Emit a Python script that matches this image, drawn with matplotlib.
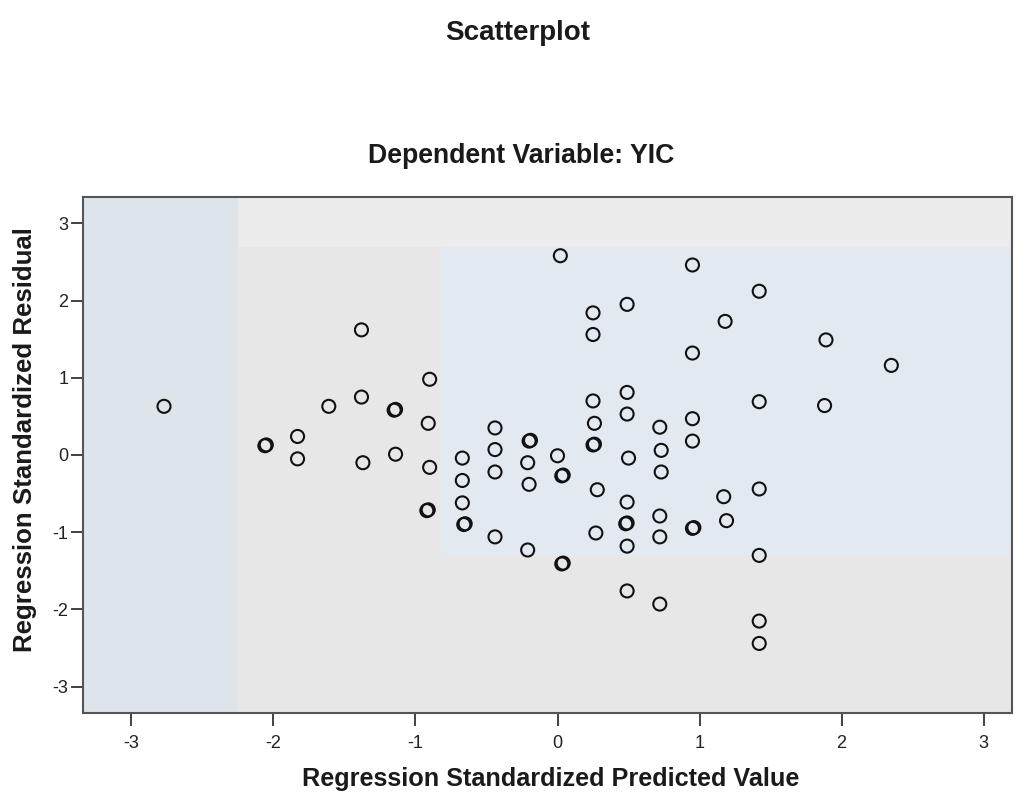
import matplotlib
matplotlib.use("Agg")
import matplotlib.pyplot as plt
from matplotlib.patches import Rectangle

plt.rcParams['font.family'] = ['Liberation Sans', 'DejaVu Sans']

# Regression standardized predicted values (x) and residuals (y)
pred = [-2.77, -2.06, -2.05, -1.83, -1.83, -1.61, -1.38, -1.38, -1.37,
        -1.15, -1.14, -1.14, -0.90, -0.91, -0.90, -0.92, -0.91,
        -0.67, -0.67, -0.67, -0.66, -0.65,
        -0.44, -0.44, -0.44, -0.44,
        -0.20, -0.19, -0.21, -0.20, -0.21,
        0.02, 0.00, 0.03, 0.04, 0.03, 0.04,
        0.25, 0.25, 0.25, 0.26, 0.25, 0.26, 0.28, 0.27,
        0.49, 0.49, 0.49, 0.50, 0.49, 0.48, 0.49, 0.49, 0.49,
        0.72, 0.73, 0.73, 0.72, 0.72, 0.72,
        0.95, 0.95, 0.95, 0.95, 0.95, 0.96,
        1.18, 1.17, 1.19,
        1.42, 1.42, 1.42, 1.42, 1.42, 1.42,
        1.88, 1.89, 2.35]
resid = [0.63, 0.12, 0.13, 0.24, -0.05, 0.63, 1.62, 0.75, -0.10,
         0.58, 0.59, 0.01, 0.98, 0.41, -0.16, -0.72, -0.71,
         -0.04, -0.33, -0.62, -0.90, -0.89,
         0.35, 0.07, -0.22, -1.06,
         0.18, 0.19, -0.10, -0.38, -1.23,
         2.58, -0.01, -0.27, -0.26, -1.41, -1.40,
         1.84, 1.56, 0.70, 0.41, 0.13, 0.14, -0.45, -1.01,
         1.95, 0.81, 0.53, -0.04, -0.61, -0.89, -0.88, -1.18, -1.76,
         0.36, 0.06, -0.22, -0.79, -1.06, -1.93,
         2.46, 1.32, 0.47, 0.18, -0.95, -0.94,
         1.73, -0.54, -0.85,
         2.12, 0.69, -0.44, -1.30, -2.15, -2.44,
         0.64, 1.49, 1.16]

xticks = [-3, -2, -1, 0, 1, 2, 3]
yticks = [-3, -2, -1, 0, 1, 2, 3]

fig = plt.figure(figsize=(10.19, 7.96), dpi=100)
ax = fig.add_axes([0.0815, 0.1043, 0.9117, 0.6482])
xlim = (-3.34, 3.20)
ylim = (-3.34, 3.34)
ax.set_xlim(*xlim)
ax.set_ylim(*ylim)
ax.set_facecolor('#e7e7e7')

# background shading (as in the scanned reference)
ax.add_patch(Rectangle((xlim[0], ylim[0]), -2.25 - xlim[0], ylim[1] - ylim[0],
                       facecolor='#dde5eb', edgecolor='none', zorder=0))
ax.add_patch(Rectangle((-0.81, -1.31), xlim[1] + 0.81, 2.69 + 1.31,
                       facecolor='#e3e9f1', edgecolor='none', zorder=0))
ax.add_patch(Rectangle((-2.25, 2.69), xlim[1] + 2.25, ylim[1] - 2.69,
                       facecolor='#ececec', edgecolor='none', zorder=0))

ax.scatter(pred, resid, s=88, facecolors='none', edgecolors='#111111',
           linewidths=1.5, zorder=3)

ax.set_xticks(xticks)
ax.set_yticks(yticks)
ax.set_xticklabels([str(t) for t in xticks])
ax.set_yticklabels([str(t) for t in yticks])
ax.tick_params(axis='x', direction='out', length=9.5, width=1.2, labelsize=13, pad=6, colors='#222222')
ax.tick_params(axis='y', direction='out', length=8.5, width=1.2, labelsize=13, pad=2, colors='#222222')
for s in ax.spines.values():
    s.set_color('#555555')
    s.set_linewidth(1.5)

ax.set_xlabel('Regression Standardized Predicted Value', fontsize=18.2, fontweight='bold', color='#1a1a1a')
ax.set_ylabel('Regression Standardized Residual', fontsize=18.6, fontweight='bold', color='#1a1a1a')
ax.xaxis.label.set_va('center')
ax.yaxis.label.set_va('center')
ax.xaxis.set_label_coords(0.503, -0.128)
ax.yaxis.set_label_coords(-0.0624, 0.529)

fig.text(0.508, 0.958, 'Scatterplot', ha='center', va='center', fontsize=20, fontweight='bold', color='#1a1a1a')
fig.text(0.511, 0.804, 'Dependent Variable: YIC', ha='center', va='center', fontsize=19.2, fontweight='bold', color='#1a1a1a')

fig.savefig('out.png', dpi=100)
